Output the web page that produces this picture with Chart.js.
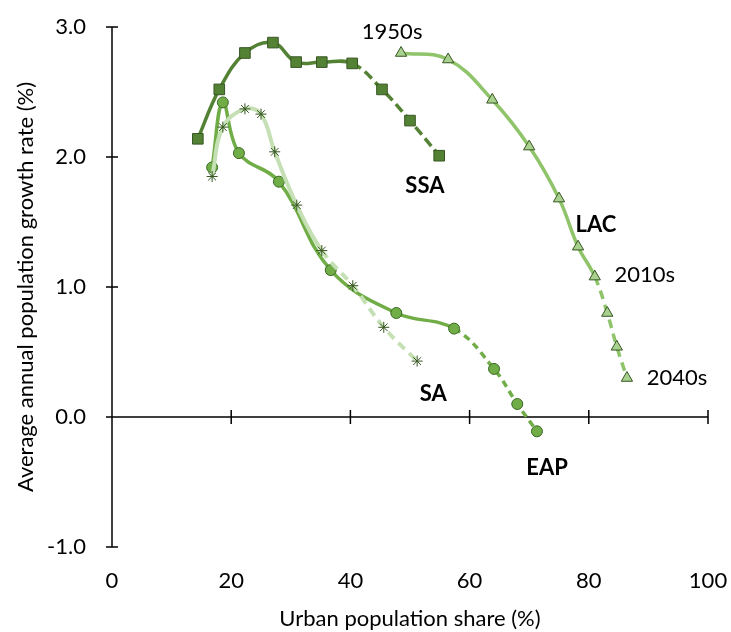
<!DOCTYPE html>
<html lang="en">
<head>
    <meta charset="UTF-8">
    <title>Urbanization and population growth</title>
    <script src="https://cdn.jsdelivr.net/npm/chart.js"></script>
    <style>
        html, body { margin: 0; padding: 0; background: #fff; overflow: hidden; }
        canvas { display: block; }
    </style>
</head>
<body>
<canvas id="growthChart" width="731" height="632"></canvas>
<script>
    // urban share (%) and growth rate (%) per decade, 1950s ... 2040s
    const ssaX = [14.4, 18.0, 22.3, 27.0, 30.9, 35.2, 40.3, 45.3, 50.0, 54.9];
    const ssaY = [2.14, 2.52, 2.80, 2.88, 2.73, 2.73, 2.72, 2.52, 2.28, 2.01];
    const eapX = [16.8, 18.6, 21.3, 28.0, 36.7, 47.7, 57.4, 64.1, 68.0, 71.3];
    const eapY = [1.92, 2.42, 2.03, 1.81, 1.13, 0.80, 0.68, 0.37, 0.10, -0.11];
    const saX = [16.8, 18.6, 22.3, 25.0, 27.3, 31.0, 35.2, 40.4, 45.6, 51.2];
    const saY = [1.85, 2.23, 2.37, 2.33, 2.04, 1.63, 1.28, 1.01, 0.69, 0.43];
    const lacX = [48.5, 56.4, 63.8, 70.0, 75.0, 78.2, 81.0, 83.1, 84.7, 86.4];
    const lacY = [2.80, 2.75, 2.44, 2.08, 1.68, 1.31, 1.08, 0.80, 0.54, 0.30];

    const xTicks = [0, 20, 40, 60, 80, 100];
    const yTicks = [-1, 0, 1, 2, 3];

    // text notes: [text, x, y, bold]
    const notes = [
        ['1950s', 47.0, 2.96, false],
        ['SSA', 52.5, 1.78, true],
        ['LAC', 81.2, 1.48, true],
        ['2010s', 89.4, 1.09, false],
        ['2040s', 94.8, 0.30, false],
        ['SA', 53.9, 0.18, true],
        ['EAP', 73.0, -0.39, true]
    ];

    const projStart = 6; // from the 2010s the values are projections (dashed)

    const FONT = 'Lato, "Open Sans", sans-serif';

    function pts(xs, ys) {
        return xs.map((x, i) => ({ x: x, y: ys[i] }));
    }

    function series(label, xs, ys, line, fill, edge, style, radius, dash, width) {
        return {
            label: label,
            data: pts(xs, ys),
            showLine: true,
            borderColor: line,
            borderWidth: width,
            tension: 0.4,
            pointStyle: style,
            pointRadius: radius,
            pointBackgroundColor: fill,
            pointBorderColor: edge,
            pointBorderWidth: 1,
            segment: {
                borderDash: ctx => ctx.p0DataIndex >= projStart ? dash : undefined
            }
        };
    }

    // axis lines crossing at zero, ticks through the line
    const crossAxes = {
        id: 'crossAxes',
        beforeDatasetsDraw(chart) {
            const c = chart.ctx;
            const xs = chart.scales.x, ys = chart.scales.y;
            const x0 = xs.getPixelForValue(0), y0 = ys.getPixelForValue(0);
            c.save();
            c.strokeStyle = '#000';
            c.lineWidth = 1.5;
            c.beginPath();
            c.moveTo(x0, ys.getPixelForValue(3));
            c.lineTo(x0, ys.getPixelForValue(-1));
            c.moveTo(x0, y0);
            c.lineTo(xs.getPixelForValue(100), y0);
            yTicks.forEach(v => {
                const p = ys.getPixelForValue(v);
                c.moveTo(x0 - 6, p);
                c.lineTo(x0 + 6, p);
            });
            xTicks.forEach(v => {
                const p = xs.getPixelForValue(v);
                c.moveTo(p, y0 - 7);
                c.lineTo(p, y0 + 7);
            });
            c.stroke();
            c.restore();
        },
        afterDatasetsDraw(chart) {
            const c = chart.ctx;
            const xs = chart.scales.x, ys = chart.scales.y;
            c.save();
            c.fillStyle = '#000';
            c.textAlign = 'center';
            c.textBaseline = 'middle';
            notes.forEach(n => {
                c.font = (n[3] ? 'bold ' : '') + '22px ' + FONT;
                c.fillText(n[0], xs.getPixelForValue(n[1]), ys.getPixelForValue(n[2]));
            });
            c.restore();
        }
    };

    const ctx = document.getElementById('growthChart').getContext('2d');
    new Chart(ctx, {
        type: 'scatter',
        data: {
            datasets: [
                series('SA', saX, saY, '#c5e0b4', '#375623', '#375623', 'star', 5.5, [9, 6], 4),
                series('SSA', ssaX, ssaY, '#548235', '#548235', '#375623', 'rect', 7.5, [10, 5], 3.5),
                series('EAP', eapX, eapY, '#70ad47', '#70ad47', '#3b6a25', 'circle', 5.5, [7, 5], 3.5),
                series('LAC', lacX, lacY, '#8fc46a', '#a9d18e', '#375623', 'triangle', 6.5, [9, 6], 3.5)
            ]
        },
        options: {
            responsive: false,
            animation: false,
            devicePixelRatio: 1,
            layout: { autoPadding: false, padding: { top: 27, right: 23, left: 0, bottom: 0 } },
            plugins: {
                legend: { display: false },
                tooltip: { enabled: false }
            },
            scales: {
                x: {
                    type: 'linear',
                    min: 0,
                    max: 100,
                    afterFit(s) {
                        s.height = 85;
                        s.paddingLeft = 0;
                        s.paddingRight = 0;
                    },
                    afterBuildTicks(s) { s.ticks = xTicks.map(v => ({ value: v })); },
                    grid: { display: false },
                    border: { display: false },
                    ticks: {
                        padding: 13,
                        color: '#000',
                        font: { family: FONT, size: 22 }
                    },
                    title: {
                        display: true,
                        text: 'Urban population share (%)',
                        color: '#000',
                        font: { family: FONT, size: 22 },
                        padding: { top: 0, bottom: 0 }
                    }
                },
                y: {
                    type: 'linear',
                    min: -1,
                    max: 3,
                    afterFit(s) {
                        s.width = 112;
                        s.paddingTop = 0;
                        s.paddingBottom = 0;
                    },
                    afterBuildTicks(s) { s.ticks = yTicks.map(v => ({ value: v })); },
                    grid: { display: false },
                    border: { display: false },
                    ticks: {
                        padding: 18,
                        color: '#000',
                        font: { family: FONT, size: 22 },
                        callback: v => v.toFixed(1)
                    },
                    title: {
                        display: true,
                        text: 'Average annual population growth rate (%)',
                        color: '#000',
                        font: { family: FONT, size: 22 },
                        padding: { top: 13, bottom: 0 }
                    }
                }
            }
        },
        plugins: [crossAxes]
    });
</script>
</body>
</html>
